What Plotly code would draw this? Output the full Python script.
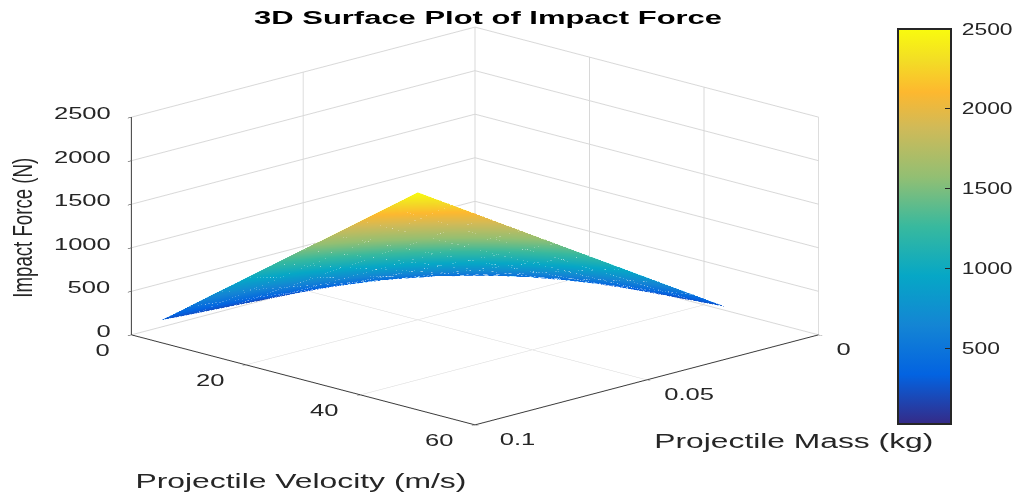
import plotly.graph_objects as go

title = "3D Surface Plot of Impact Force"
mass_label = "Projectile Mass (kg)"
velocity_label = "Projectile Velocity (m/s)"
force_label = "Impact Force (N)"

mass = [0.01, 0.02, 0.03, 0.04, 0.05, 0.06, 0.07, 0.08, 0.09, 0.10]
velocity = [5, 10, 15, 20, 25, 30, 35, 40, 45, 50]
force = [
    [25, 50, 75, 100, 125, 150, 175, 200, 225, 250],
    [50, 100, 150, 200, 250, 300, 350, 400, 450, 500],
    [75, 150, 225, 300, 375, 450, 525, 600, 675, 750],
    [100, 200, 300, 400, 500, 600, 700, 800, 900, 1000],
    [125, 250, 375, 500, 625, 750, 875, 1000, 1125, 1250],
    [150, 300, 450, 600, 750, 900, 1050, 1200, 1350, 1500],
    [175, 350, 525, 700, 875, 1050, 1225, 1400, 1575, 1750],
    [200, 400, 600, 800, 1000, 1200, 1400, 1600, 1800, 2000],
    [225, 450, 675, 900, 1125, 1350, 1575, 1800, 2025, 2250],
    [250, 500, 750, 1000, 1250, 1500, 1750, 2000, 2250, 2500],
]

mass_ticks = [0, 0.05, 0.1]
velocity_ticks = [0, 20, 40, 60]
force_ticks = [0, 500, 1000, 1500, 2000, 2500]
colorbar_ticks = [500, 1000, 1500, 2000, 2500]

parula = [
    [0.0, "#352a87"], [0.125, "#0363e1"], [0.25, "#1485d4"], [0.375, "#06a7c6"],
    [0.5, "#38b99e"], [0.625, "#92bf73"], [0.75, "#d0ba58"], [0.84, "#fdb82f"],
    [0.92, "#f3dd25"], [1.0, "#f9fb0e"],
]

FONT = "Liberation Sans"
INK = "#262626"
W, H = 1016, 493

fig = go.Figure(go.Surface(
    x=mass, y=velocity, z=force,
    colorscale=parula, cmin=25, cmax=2500,
    lighting=dict(ambient=1, diffuse=0, specular=0, roughness=1, fresnel=0),
    hoverinfo="skip",
    colorbar=dict(
        x=898 / W, xanchor="left", xpad=0,
        y=1 - 29 / H, yanchor="top", ypad=0,
        lenmode="pixels", len=395, thicknessmode="pixels", thickness=53,
        outlinecolor=INK, outlinewidth=2,
        tickvals=colorbar_ticks, ticks="inside", ticklen=7, tickcolor=INK,
        tickfont=dict(family=FONT, size=16, color=INK),
    ),
))

# faint mesh edges of the surface
mesh = dict(mode="lines", line=dict(color="rgba(255,255,255,0.18)", width=1),
            showlegend=False, hoverinfo="skip")
for j, v in enumerate(velocity):
    fig.add_trace(go.Scatter3d(x=mass, y=[v] * len(mass), z=force[j], **mesh))
for i, m in enumerate(mass):
    fig.add_trace(go.Scatter3d(x=[m] * len(velocity), y=velocity, z=[row[i] for row in force], **mesh))

axis = dict(
    showbackground=False, showgrid=True, gridcolor="#d8d8d8", gridwidth=2,
    zeroline=False, showspikes=False, showticklabels=False, title=dict(text=""),
    showline=True, linecolor="#3a3a3a", linewidth=2, ticks="outside", ticklen=5, tickcolor=INK,
)

scene_notes = []
def note(text, x, y, z, dx, dy):
    scene_notes.append(dict(text=str(text), x=x, y=y, z=z, xshift=dx, yshift=dy, showarrow=False,
                            font=dict(family=FONT, size=16.5, color=INK)))

for t in mass_ticks:
    note(t, t, 60, 0, 25 if t == 0 else 42, -14)
for t in velocity_ticks:
    note(t, 0.1, t, 0, -29 if t == 0 else -36, -15)
for t in force_ticks:
    note(t, 0.1, 0, t, -21 - 7.1 * len(str(t)), 4)

def label(text, x, y, size, color=INK, angle=0):
    return dict(text=text, x=x / W, y=1 - y / H, xref="paper", yref="paper",
                xanchor="center", yanchor="middle", textangle=angle, showarrow=False,
                font=dict(family=FONT, size=size, color=color))

fig.update_layout(
    width=W, height=H,
    margin=dict(l=0, r=0, t=0, b=0),
    paper_bgcolor="white",
    font=dict(family=FONT, color=INK),
    scene=dict(
        domain=dict(x=[0, 950 / W], y=[0.083, 1.0]),
        xaxis=dict(axis, range=[0, 0.1], tickvals=mass_ticks),
        yaxis=dict(axis, range=[0, 60], tickvals=velocity_ticks),
        zaxis=dict(axis, range=[0, 2500], tickvals=force_ticks),
        aspectmode="manual", aspectratio=dict(x=2.15, y=2.15, z=0.998),
        camera=dict(projection=dict(type="orthographic"),
                    eye=dict(x=1.25, y=1.25, z=0.48), up=dict(x=0, y=0, z=1)),
        annotations=scene_notes,
    ),
    annotations=[
        label(f"<b>{title}</b>", 488, 18, 18, "black"),
        label(velocity_label, 301, 481, 20),
        label(mass_label, 794, 441, 20),
        label(force_label, 23, 228, 27, angle=-90),
    ],
)

post = """
document.body.style.margin = '0';
var gd = document.getElementById('{plot_id}');
var targets = {};
targets[%r] = 468; targets[%r] = 331; targets[%r] = 279; targets[%r] = 140;
function stretch() {
  gd.querySelectorAll('.annotation-text').forEach(function (t) {
    t.removeAttribute('textLength'); t.removeAttribute('lengthAdjust');
    var n = t.getComputedTextLength();
    var w = targets[t.textContent] || n * 1.55;
    t.setAttribute('textLength', w); t.setAttribute('lengthAdjust', 'spacingAndGlyphs');
  });
  gd.querySelectorAll('.colorbar text').forEach(function (t) {
    t.removeAttribute('textLength'); t.removeAttribute('lengthAdjust');
    var n = t.getComputedTextLength();
    t.setAttribute('textLength', n * 1.43); t.setAttribute('lengthAdjust', 'spacingAndGlyphs');
    if (!t.dataset.moved) { t.setAttribute('x', parseFloat(t.getAttribute('x')) + 6); t.dataset.moved = '1'; }
  });
}
stretch();
[100, 400, 1000, 2000].forEach(function (ms) { setTimeout(stretch, ms); });
""" % (title, velocity_label, mass_label, force_label)

fig.write_html("out.html", config=dict(displayModeBar=False), post_script=post)
